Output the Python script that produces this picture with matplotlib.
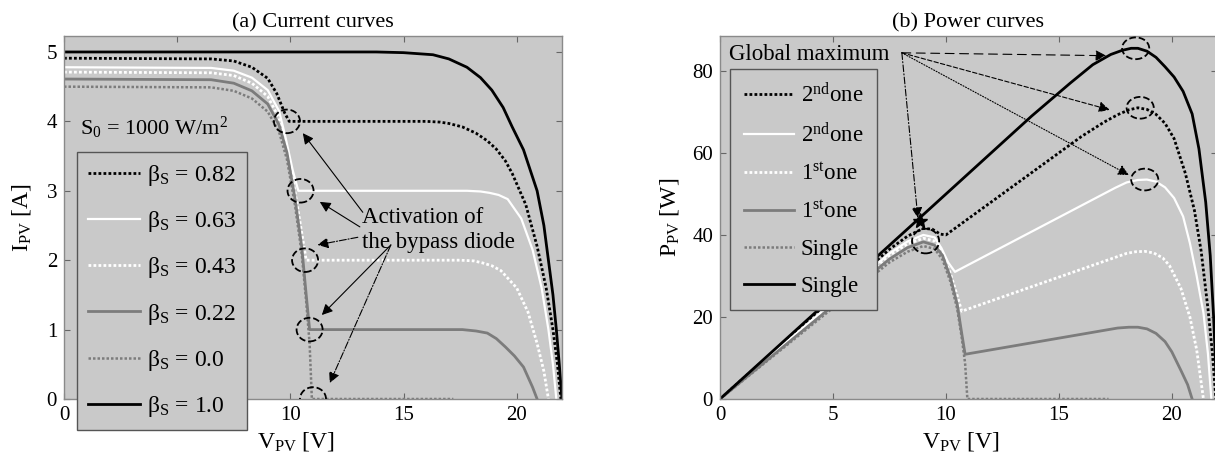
import matplotlib
matplotlib.use("Agg")
import matplotlib.pyplot as plt
from matplotlib.patches import Ellipse

plt.rcParams["font.family"] = ["Liberation Serif", "DejaVu Serif"]
plt.rcParams["mathtext.fontset"] = "custom"
plt.rcParams["mathtext.rm"] = "Liberation Serif"
plt.rcParams["mathtext.it"] = "Liberation Serif:italic"

AX_BG = "#c9c9c9"
GRAY = "#7c7c7c"

# ---------------- (a) current curves ----------------
V_b100 = [0, 13.8, 15.0, 16.3, 17.0, 17.8, 18.4, 18.9, 19.4, 19.8, 20.3, 20.9, 21.2, 21.4, 21.6, 21.75, 21.88, 22.0]
I_b100 = [5.0, 5.0, 4.99, 4.96, 4.9, 4.78, 4.63, 4.45, 4.2, 3.92, 3.59, 3.0, 2.5, 2.0, 1.5, 1.0, 0.5, 0.0]

V_b082 = [0, 6.5, 7.5, 8.3, 9.0, 9.4, 9.75, 9.95, 16.0, 16.6, 17.0, 17.6, 18.2, 18.7, 19.1, 19.5, 19.8, 20.4, 20.9, 21.3, 21.6, 21.8, 21.95]
I_b082 = [4.91, 4.9, 4.87, 4.78, 4.62, 4.40, 4.12, 4.0, 4.0, 3.99, 3.97, 3.92, 3.83, 3.72, 3.6, 3.43, 3.25, 2.8, 2.2, 1.6, 1.0, 0.5, 0.0]

V_b063 = [0, 6.5, 7.5, 8.3, 9.0, 9.5, 9.8, 10.1, 10.35, 17.8, 18.4, 18.8, 19.2, 19.6, 20.2, 20.7, 21.1, 21.4, 21.6, 21.75]
I_b063 = [4.78, 4.77, 4.73, 4.63, 4.45, 4.15, 3.75, 3.3, 3.0, 3.0, 2.99, 2.97, 2.94, 2.88, 2.6, 2.15, 1.6, 1.0, 0.5, 0.0]

V_b043 = [0, 6.5, 7.5, 8.3, 9.0, 9.5, 9.85, 10.2, 10.5, 10.7, 17.5, 18.1, 18.5, 18.9, 19.3, 20.0, 20.5, 20.9, 21.2, 21.4]
I_b043 = [4.71, 4.70, 4.66, 4.55, 4.36, 4.05, 3.6, 3.0, 2.4, 2.0, 2.0, 1.99, 1.96, 1.92, 1.85, 1.6, 1.25, 0.8, 0.4, 0.0]

V_b022 = [0, 6.5, 7.5, 8.3, 9.0, 9.5, 9.85, 10.2, 10.5, 10.7, 10.85, 17.6, 18.2, 18.7, 19.1, 19.5, 19.9, 20.3, 20.7, 20.9]
I_b022 = [4.61, 4.6, 4.55, 4.44, 4.25, 3.95, 3.55, 2.9, 2.2, 1.5, 1.0, 1.0, 0.98, 0.95, 0.87, 0.75, 0.62, 0.46, 0.17, 0.0]

V_b000 = [0, 6.5, 7.5, 8.3, 9.0, 9.5, 9.85, 10.2, 10.5, 10.7, 10.85, 10.95, 17.2]
I_b000 = [4.5, 4.49, 4.44, 4.33, 4.14, 3.85, 3.45, 2.8, 2.1, 1.4, 0.8, 0.0, 0.0]

# ---------------- (b) power curves ----------------
V_p100 = [0, 8.85, 13.8, 15.5, 16.5, 17.3, 17.8, 18.2, 18.5, 18.9, 19.3, 19.7, 20.1, 20.5, 20.9, 21.2, 21.5, 21.7, 21.85, 22.0]
P_p100 = [0, 44.2, 69, 77, 81.5, 84, 85.0, 85.5, 85.5, 84.8, 83.3, 81, 78.5, 75, 69.5, 61, 48, 35, 20, 0]

V_p082 = [0, 7.5, 8.3, 9.0, 9.4, 9.75, 10.0, 16.0, 17.0, 17.6, 18.1, 18.5, 18.9, 19.3, 19.7, 20.1, 20.6, 21.0, 21.3, 21.6, 21.8, 21.95]
P_p082 = [0, 36.5, 39.7, 41.6, 41.4, 40.2, 40.0, 64, 67.5, 69.3, 70.5, 71, 70.6, 69.4, 67.2, 63.5, 55, 46, 36, 22, 11, 0]

V_p063 = [0, 7.5, 8.3, 9.0, 9.5, 9.8, 10.1, 10.4, 17.5, 18.0, 18.5, 18.9, 19.3, 19.7, 20.1, 20.5, 20.8, 21.1, 21.4, 21.6, 21.75]
P_p063 = [0, 35.5, 38.4, 40, 39.4, 36.8, 33.3, 31.0, 51.5, 52.8, 53.4, 53.5, 53.0, 51.6, 49, 44.5, 38, 30, 21, 11, 0]

V_p043 = [0, 7.5, 8.3, 9.0, 9.5, 9.85, 10.2, 10.5, 10.7, 18.0, 18.4, 18.8, 19.2, 19.6, 19.9, 20.4, 20.8, 21.1, 21.4]
P_p043 = [0, 35, 37.8, 39.2, 38.5, 35.5, 30.6, 25.2, 21.4, 35.5, 35.9, 36, 35.6, 34.4, 32.5, 27, 20, 12, 0]

V_p022 = [0, 7.5, 8.3, 9.0, 9.5, 9.85, 10.2, 10.5, 10.7, 10.85, 17.6, 18.1, 18.5, 18.9, 19.3, 19.7, 20.0, 20.4, 20.7, 20.9]
P_p022 = [0, 34.1, 36.9, 38.3, 37.5, 35, 29.6, 23.1, 16, 10.9, 17.3, 17.5, 17.5, 17.1, 16.0, 14.0, 11.5, 7, 3.5, 0]

V_p000 = [0, 7.5, 8.3, 9.0, 9.5, 9.85, 10.2, 10.5, 10.7, 10.85, 10.95, 17.2]
P_p000 = [0, 33.3, 35.9, 37.3, 36.6, 34, 28.6, 22, 15, 8.7, 0, 0]

labels_a = ["0.82", "0.63", "0.43", "0.22", "0.0", "1.0"]
labels_b = ["2$^{\\rm nd}$one", "2$^{\\rm nd}$one", "1$^{\\rm st}$one",
            "1$^{\\rm st}$one", "Single", "Single"]

# bypass activation points (a) and maxima (b)
act_V = [9.85, 10.45, 10.65, 10.85, 11.0]
act_I = [4.0, 3.0, 2.0, 1.0, 0.0]
max_V = [18.4, 18.6, 18.8, 9.1]
max_P = [85.5, 71.0, 53.5, 38.5]

DOT = (0, (1, 0.8))
styles = [
    dict(color="black", lw=2.0, ls=DOT),
    dict(color="white", lw=1.6, ls="-"),
    dict(color="white", lw=2.0, ls=DOT),
    dict(color=GRAY, lw=2.0, ls="-"),
    dict(color=GRAY, lw=1.8, ls=DOT),
    dict(color="black", lw=2.0, ls="-"),
]

fig = plt.figure(figsize=(12.15, 4.57), dpi=100)
axa = fig.add_axes([64 / 1215, 58 / 457, 498 / 1215, 363 / 457])
axb = fig.add_axes([720 / 1215, 58 / 457, 497 / 1215, 363 / 457])

for ax in (axa, axb):
    ax.set_facecolor(AX_BG)
    for s in ax.spines.values():
        s.set_color("#8a8a8a")
        s.set_linewidth(1.0)
    ax.tick_params(direction="in", top=True, right=True, length=4,
                   color="#666", labelsize=15, pad=5)

# ---- (a)
curves_a = [(V_b082, I_b082), (V_b063, I_b063), (V_b043, I_b043),
            (V_b022, I_b022), (V_b000, I_b000), (V_b100, I_b100)]
for (v, i), st, lab in zip(curves_a, styles, labels_a):
    axa.plot(v, i, label="β$_{\\rm S}$ = " + lab, **st)

for v, i in zip(act_V, act_I):
    axa.add_patch(Ellipse((v, i), 1.15, 0.34, fill=False, ec="black",
                          ls="--", lw=1.3, zorder=5))

axa.set_xlim(0, 22)
axa.set_ylim(0, 5.23)
# the "5" label sits behind the legend box in the original
axa.set_xticks([0, 5, 10, 15, 20], ["0", "", "10", "15", "20"])
axa.set_yticks([0, 1, 2, 3, 4, 5])
axa.set_title("(a) Current curves", fontsize=16, pad=6)
axa.set_ylabel("I$_{\\rm PV}$ [A]", fontsize=17, labelpad=10)
axa.set_xlabel("V$_{\\rm PV}$ [V]", fontsize=17)
axa.xaxis.set_label_coords(0.465, -0.085)

axa.text(0.7, 3.9, "S$_0$ = 1000 W/m$^2$", fontsize=16, va="center")
axa.text(13.15, 2.62, "Activation of", fontsize=16.5, va="center")
axa.text(13.15, 2.26, "the bypass diode", fontsize=16.5, va="center")

arrows_a = [((13.2, 2.69), (10.55, 3.83), "-"),
            ((13.07, 2.48), (11.3, 2.84), "-"),
            ((12.98, 2.33), (11.2, 2.22), "-."),
            ((14.44, 2.22), (11.39, 1.21), "-"),
            ((14.44, 2.22), (11.74, 0.23), "-.")]
for start, end, ls in arrows_a:
    axa.annotate("", xy=end, xytext=start,
                 arrowprops=dict(arrowstyle="-|>", color="black", lw=0.8,
                                 ls=ls, mutation_scale=16,
                                 shrinkA=0, shrinkB=0))

leg = axa.legend(loc="upper left", bbox_to_anchor=(0.026, 0.68),
                 borderaxespad=0, fontsize=17, handlelength=2.2,
                 handletextpad=0.3, labelspacing=0.9, fancybox=False,
                 facecolor=AX_BG, edgecolor="#555", framealpha=1,
                 borderpad=0.45)
leg.get_frame().set_linewidth(1.0)

# ---- (b)
curves_b = [(V_p082, P_p082), (V_p063, P_p063), (V_p043, P_p043),
            (V_p022, P_p022), (V_p000, P_p000), (V_p100, P_p100)]
for (v, p), st, lab in zip(curves_b, styles, labels_b):
    axb.plot(v, p, label=lab, **st)

for k, (v, p) in enumerate(zip(max_V, max_P)):
    h = 5.3 if k < 3 else 6.0
    axb.add_patch(Ellipse((v, p), 1.2, h, fill=False, ec="black",
                          ls="--", lw=1.3, zorder=5))
axb.plot([8.85], [43.5], marker="*", color="black", ms=11, zorder=6)

axb.set_xlim(0, 22)
axb.set_ylim(0, 88.5)
axb.set_xticks([0, 5, 10, 15, 20])
axb.set_yticks([0, 20, 40, 60, 80])
axb.set_title("(b) Power curves", fontsize=16, pad=6)
axb.set_ylabel("P$_{\\rm PV}$ [W]", fontsize=17, labelpad=8)
axb.set_xlabel("V$_{\\rm PV}$ [V]", fontsize=17)
axb.xaxis.set_label_coords(0.485, -0.085)

axb.text(0.4, 84, "Global maximum", fontsize=16.5, va="center")
origin = (8.05, 84.4)
arrows_b = [((17.1, 83.7), (0, (8, 5))),
            ((17.25, 70.5), (0, (4, 2))),
            ((18.1, 54.6), (0, (1, 1.5))),
            ((8.76, 44.1), (0, (6, 2, 1, 2)))]
for end, ls in arrows_b:
    axb.annotate("", xy=end, xytext=origin,
                 arrowprops=dict(arrowstyle="-|>", color="black", lw=0.8,
                                 ls=ls, mutation_scale=16,
                                 shrinkA=0, shrinkB=0))

legb = axb.legend(loc="upper left", bbox_to_anchor=(0.02, 0.91),
                  borderaxespad=0, fontsize=16.5, handlelength=2.2,
                  handletextpad=0.3, labelspacing=0.7, fancybox=False,
                  facecolor=AX_BG, edgecolor="#555", framealpha=1,
                  borderpad=0.6)
legb.get_frame().set_linewidth(1.0)

fig.savefig("out.png", dpi=100, facecolor="white")
